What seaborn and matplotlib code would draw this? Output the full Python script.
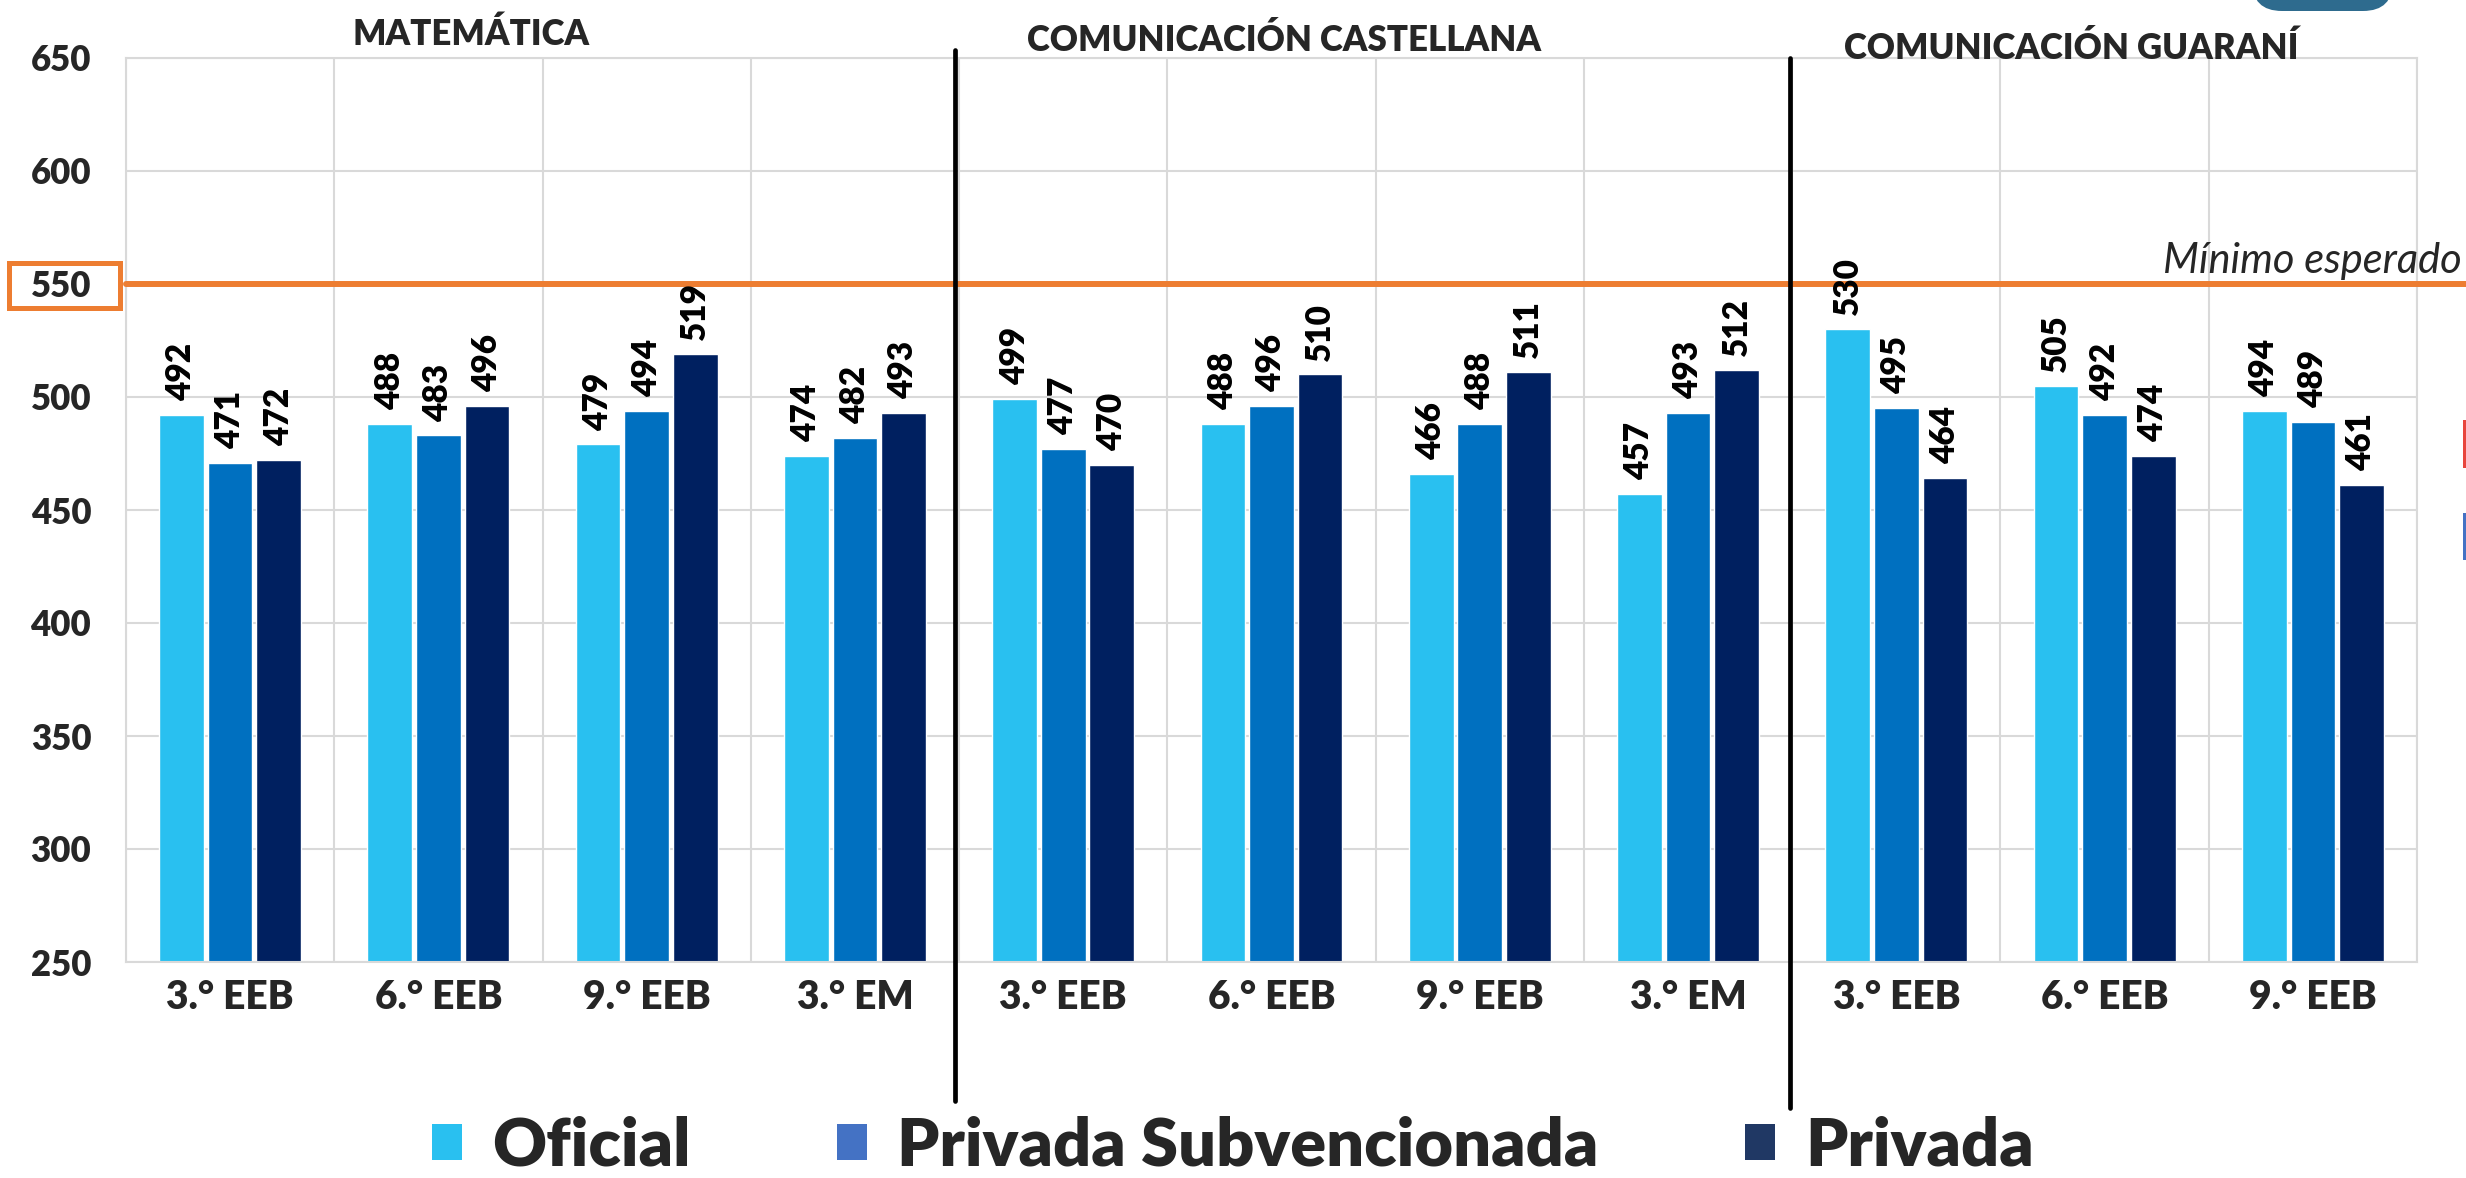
import matplotlib
matplotlib.use("Agg")
import matplotlib.pyplot as plt
import matplotlib.transforms as mtransforms
from matplotlib.patches import Patch, Rectangle, FancyBboxPatch
from matplotlib.lines import Line2D
import seaborn as sns
import pandas as pd
import numpy as np

# ---------------- data ----------------
subjects = ["MATEMÁTICA", "COMUNICACIÓN CASTELLANA", "COMUNICACIÓN GUARANÍ"]
grades = ["3.° EEB", "6.° EEB", "9.° EEB", "3.° EM",
          "3.° EEB", "6.° EEB", "9.° EEB", "3.° EM",
          "3.° EEB", "6.° EEB", "9.° EEB"]
series = ["Oficial", "Privada Subvencionada", "Privada"]
oficial = [492, 488, 479, 474, 499, 488, 466, 457, 530, 505, 494]
privada_subvencionada = [471, 483, 494, 482, 477, 496, 488, 493, 495, 492, 489]
privada = [472, 496, 519, 493, 470, 510, 511, 512, 464, 474, 461]
minimo_esperado = 550
minimo_label = "Mínimo esperado"
y_ticks = [250, 300, 350, 400, 450, 500, 550, 600, 650]

bar_colors = ["#29C0F0", "#0070C0", "#002060"]
legend_colors = ["#29C0F0", "#4472C4", "#203864"]
ORANGE = "#ED7D31"
GRID = "#D9D9D9"
BOLD = "heavy"

# ---------------- build table ----------------
cat_ids = [f"c{i}" for i in range(len(grades))]
rows = []
for name, vals in zip(series, [oficial, privada_subvencionada, privada]):
    for cid, v in zip(cat_ids, vals):
        rows.append({"cat": cid, "serie": name, "valor": v})
df = pd.DataFrame(rows)

# ---------------- figure ----------------
sns.set_theme(style="white")
plt.rcParams["font.family"] = ["Lato", "DejaVu Sans"]
plt.rcParams["font.weight"] = "bold"

W, H = 2466, 1178
fig = plt.figure(figsize=(W / 100, H / 100), dpi=100)
ax_left, ax_right, ax_top, ax_bottom = 126, 2417, 58, 962
ax = fig.add_axes([ax_left / W, 1 - ax_bottom / H,
                   (ax_right - ax_left) / W, (ax_bottom - ax_top) / H])

sns.barplot(data=df, x="cat", y="valor", hue="serie", order=cat_ids,
            hue_order=series, palette=bar_colors, width=0.7, gap=0.08,
            saturation=1, legend=False, ax=ax, zorder=2)

for cont in ax.containers:
    ax.bar_label(cont, labels=[f"{int(b.get_height())}" for b in cont],
                 rotation=90, padding=10, fontsize=24, fontweight=BOLD,
                 color="black", zorder=4)

ax.set_ylim(250, 650)
ax.set_xlim(-0.5, len(grades) - 0.5)
ax.set_yticks(y_ticks)
ax.set_yticklabels([str(t) for t in y_ticks], fontsize=25, fontweight=BOLD)
ax.set_xticks(range(len(grades)))
ax.set_xticklabels(grades, fontsize=28, fontweight=BOLD)
ax.set_xticks(np.arange(-0.5, len(grades), 1.0), minor=True)
ax.tick_params(axis="both", which="both", length=0)
ax.tick_params(axis="y", pad=25)
ax.tick_params(axis="x", pad=12)
ax.set_xlabel("")
ax.set_ylabel("")
ax.set_axisbelow(True)
ax.grid(which="major", axis="y", color=GRID, lw=1.5)
ax.grid(which="minor", axis="x", color=GRID, lw=1.5)
ax.grid(which="major", axis="x", visible=False)
for s in ax.spines.values():
    s.set_color(GRID)
    s.set_linewidth(1.5)

# orange minimum line extending to the right edge of the figure
trans_fx_dy = mtransforms.blended_transform_factory(fig.transFigure, ax.transData)
ax.add_line(Line2D([ax_left / W, 1.0], [minimo_esperado, minimo_esperado],
                   transform=trans_fx_dy, color=ORANGE, lw=4.3,
                   clip_on=False, zorder=3))
ax.text(2462 / W, minimo_esperado, minimo_label,
        transform=mtransforms.offset_copy(trans_fx_dy, fig=fig, y=4, units="dots"),
        ha="right", va="bottom", fontsize=30, fontstyle="italic",
        fontweight="normal", clip_on=False, zorder=4)

# orange box around the 550 tick
fig.add_artist(Rectangle((9 / W, 1 - 308 / H), 111 / W, 45 / H,
                         transform=fig.transFigure, fill=False,
                         edgecolor=ORANGE, lw=3.6))

# black separators between subjects
trans_dx_fy = mtransforms.blended_transform_factory(ax.transData, fig.transFigure)
for xs, y0, y1 in [(3.48, 1101, 50), (7.49, 1108, 58)]:
    ax.add_line(Line2D([xs, xs], [1 - y0 / H, 1 - y1 / H], transform=trans_dx_fy,
                       color="black", lw=3.4, clip_on=False, zorder=5))

# subject titles
for name, xc, yb in zip(subjects, [471, 1284, 2071], [45, 51, 59]):
    fig.text(xc / W, 1 - yb / H, name, ha="center", va="baseline",
             fontsize=25, fontweight=BOLD)

# legend
handles = [Patch(facecolor=c, edgecolor="none") for c in legend_colors]
fig.legend(handles, series, loc="center", bbox_to_anchor=(0.5, 1 - 1146 / H),
           ncol=3, frameon=False, prop={"size": 48, "weight": BOLD},
           handlelength=0.45, handleheight=0.45, handletextpad=0.45,
           columnspacing=2.2, borderpad=0)

# decorative pieces at the right/top edges
fig.add_artist(FancyBboxPatch((22.52, 11.67), 1.41, 0.6,
                              boxstyle="round,pad=0,rounding_size=0.3",
                              transform=fig.dpi_scale_trans,
                              facecolor="#2E6B8E", edgecolor="none"))
fig.add_artist(Rectangle((24.63, (H - 468) / 100), 0.04, 0.48,
                         transform=fig.dpi_scale_trans,
                         facecolor="#E8453C", edgecolor="none"))
fig.add_artist(Rectangle((24.63, (H - 560) / 100), 0.04, 0.47,
                         transform=fig.dpi_scale_trans,
                         facecolor="#4472C4", edgecolor="none"))

fig.savefig("out.png", dpi=100, facecolor="white")
